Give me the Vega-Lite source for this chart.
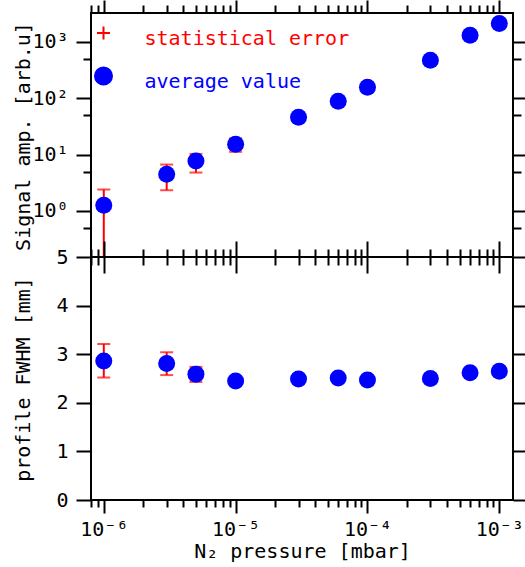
{
  "$schema": "https://vega.github.io/schema/vega-lite/v6.json",
  "background": "white",
  "padding": {"left": 11, "top": -2, "right": 0, "bottom": 0},
  "config": {
    "font": "DejaVu Sans Mono",
    "view": {"stroke": "black", "strokeWidth": 2},
    "concat": {"spacing": 0},
    "axis": {
      "domain": false, "grid": false, "tickColor": "black", "tickWidth": 2,
      "labelFont": "DejaVu Sans Mono", "labelFontSize": 20, "labelColor": "black",
      "titleFont": "DejaVu Sans Mono", "titleFontSize": 20, "titleFontWeight": "normal", "titleColor": "black",
      "labelFlush": false, "labelOverlap": false
    }
  },
  "datasets": {
    "d": [
      {"p": 0.000001, "s": 1.26, "slo": 0.12, "shi": 2.4, "f": 2.86, "flo": 2.52, "fhi": 3.21},
      {"p": 0.000003, "s": 4.48, "slo": 2.33, "shi": 6.66, "f": 2.81, "flo": 2.57, "fhi": 3.04},
      {"p": 0.000005, "s": 7.72, "slo": 4.8, "shi": 10.3, "f": 2.59, "flo": 2.43, "fhi": 2.74},
      {"p": 0.00001, "s": 15.3, "slo": 11.2, "shi": 19.4, "f": 2.45, "flo": null, "fhi": null},
      {"p": 0.00003, "s": 46, "slo": null, "shi": null, "f": 2.49, "flo": null, "fhi": null},
      {"p": 0.00006, "s": 88.6, "slo": null, "shi": null, "f": 2.51, "flo": null, "fhi": null},
      {"p": 0.0001, "s": 157, "slo": null, "shi": null, "f": 2.47, "flo": null, "fhi": null},
      {"p": 0.0003, "s": 473, "slo": null, "shi": null, "f": 2.5, "flo": null, "fhi": null},
      {"p": 0.0006, "s": 1315, "slo": null, "shi": null, "f": 2.62, "flo": null, "fhi": null},
      {"p": 0.001, "s": 2122, "slo": null, "shi": null, "f": 2.65, "flo": null, "fhi": null}
    ]
  },
  "bounds": "flush",
  "resolve": {"legend": {"color": "independent"}},
  "vconcat": [
    {
      "width": 422,
      "height": 244,
      "data": {"name": "d"},
      "resolve": {"axis": {"x": "independent", "y": "independent"}},
      "layer": [
        {
          "mark": {"type": "rule", "strokeWidth": 2, "clip": true},
          "encoding": {
            "x": {"field": "p", "type": "quantitative",
              "scale": {"type": "log", "domain": [8e-7, 0.00127], "nice": false},
              "axis": {"orient": "bottom", "labels": false, "title": null,
                "values": [8e-7,9e-7,0.000001,0.000002,0.000003,0.000004,0.000005,0.000006,0.000007,0.000008,0.000009,0.00001,0.00002,0.00003,0.00004,0.00005,0.00006,0.00007,0.00008,0.00009,0.0001,0.0002,0.0003,0.0004,0.0005,0.0006,0.0007,0.0008,0.0009,0.001],
                "tickSize": {"condition": {"test": "datum.value == 0.000001 || datum.value == 0.00001 || datum.value == 0.0001 || datum.value == 0.001", "value": 16}, "value": 8}}},
            "y": {"field": "slo", "type": "quantitative",
              "scale": {"type": "log", "domain": [0.152, 3270], "nice": false},
              "axis": {"orient": "left", "values": [0.5, 1, 5, 10, 50, 100, 500, 1000],
                "labelExpr": "datum.value == 1 ? '10⁰' : datum.value == 10 ? '10¹' : datum.value == 100 ? '10²' : datum.value == 1000 ? '10³' : ''",
                "tickSize": {"condition": {"test": "datum.value == 1 || datum.value == 10 || datum.value == 100 || datum.value == 1000", "value": 15}, "value": 8},
                "labelPadding": 8,
                "title": "Signal amp. [arb.u]", "titleAngle": 270, "titleBaseline": "alphabetic", "titleAlign": "center", "titleX": -62, "titleY": 123}},
            "y2": {"field": "shi"},
            "color": {"datum": "statistical error",
              "scale": {"domain": ["statistical error", "average value"], "range": ["red", "blue"]},
              "legend": {
                "orient": "none", "legendX": 2.5, "legendY": 10, "title": null, "padding": 0,
                "labelFont": "DejaVu Sans Mono", "labelFontSize": 20, "labelOffset": 31, "rowPadding": 14, "labelLimit": 400,
                "encode": {
                  "symbols": {"update": {
                    "shape": {"signal": "datum.value === 'statistical error' ? 'M-1,0H1M0,-1V1' : 'circle'"},
                    "size": {"signal": "datum.value === 'statistical error' ? 169 : 289"},
                    "fill": {"signal": "datum.value === 'statistical error' ? 'transparent' : 'blue'"},
                    "stroke": {"signal": "datum.value === 'statistical error' ? 'red' : 'transparent'"},
                    "strokeWidth": {"value": 2},
                    "opacity": {"value": 1},
                    "fillOpacity": {"value": 1}
                  }},
                  "labels": {"update": {
                    "fill": {"signal": "datum.value === 'statistical error' ? 'red' : 'blue'"},
                    "dy": {"value": 6}
                  }}
                }
              }}
          }
        },
        {
          "mark": {"type": "tick", "orient": "horizontal", "size": 13, "thickness": 2, "color": "red", "clip": true},
          "encoding": {
            "x": {"field": "p", "type": "quantitative",
              "axis": {"orient": "top", "labels": false, "title": null,
                "values": [8e-7,9e-7,0.000001,0.000002,0.000003,0.000004,0.000005,0.000006,0.000007,0.000008,0.000009,0.00001,0.00002,0.00003,0.00004,0.00005,0.00006,0.00007,0.00008,0.00009,0.0001,0.0002,0.0003,0.0004,0.0005,0.0006,0.0007,0.0008,0.0009,0.001],
                "tickSize": {"condition": {"test": "datum.value == 0.000001 || datum.value == 0.00001 || datum.value == 0.0001 || datum.value == 0.001", "value": 13}, "value": 8}}},
            "y": {"field": "shi", "type": "quantitative",
              "axis": {"orient": "right", "labels": false, "title": null, "values": [0.5, 1, 5, 10, 50, 100, 500, 1000],
                "tickSize": {"condition": {"test": "datum.value == 1 || datum.value == 10 || datum.value == 100 || datum.value == 1000", "value": 15}, "value": 8}}}
          }
        },
        {
          "mark": {"type": "tick", "orient": "horizontal", "size": 13, "thickness": 2, "color": "red", "clip": true},
          "encoding": {
            "x": {"field": "p", "type": "quantitative", "axis": null},
            "y": {"field": "slo", "type": "quantitative", "axis": null}
          }
        },
        {
          "mark": {"type": "circle", "size": 289, "opacity": 1},
          "encoding": {
            "x": {"field": "p", "type": "quantitative", "axis": null},
            "y": {"field": "s", "type": "quantitative", "axis": null},
            "color": {"datum": "average value"}
          }
        }
      ]
    },
    {
      "width": 422,
      "height": 243,
      "data": {"name": "d"},
      "resolve": {"axis": {"x": "independent", "y": "independent"}},
      "layer": [
        {
          "mark": {"type": "rule", "strokeWidth": 2, "color": "red", "clip": true},
          "encoding": {
            "x": {"field": "p", "type": "quantitative",
              "scale": {"type": "log", "domain": [8e-7, 0.00127], "nice": false},
              "axis": {"orient": "bottom",
                "values": [8e-7,9e-7,0.000001,0.000002,0.000003,0.000004,0.000005,0.000006,0.000007,0.000008,0.000009,0.00001,0.00002,0.00003,0.00004,0.00005,0.00006,0.00007,0.00008,0.00009,0.0001,0.0002,0.0003,0.0004,0.0005,0.0006,0.0007,0.0008,0.0009,0.001],
                "labelExpr": "datum.value == 0.000001 ? '10⁻⁶' : datum.value == 0.00001 ? '10⁻⁵' : datum.value == 0.0001 ? '10⁻⁴' : datum.value == 0.001 ? '10⁻³' : ''",
                "tickSize": {"condition": {"test": "datum.value == 0.000001 || datum.value == 0.00001 || datum.value == 0.0001 || datum.value == 0.001", "value": 13}, "value": 7},
                "labelPadding": 6,
                "title": "N₂ pressure [mbar]", "titleBaseline": "alphabetic", "titleAlign": "center", "titleX": 211, "titleY": 57}},
            "y": {"field": "flo", "type": "quantitative",
              "scale": {"domain": [0, 5], "nice": false, "zero": true},
              "axis": {"orient": "left", "values": [0, 1, 2, 3, 4, 5], "tickSize": 15, "labelPadding": 8,
                "title": "profile FWHM [mm]", "titleAngle": 270, "titleBaseline": "alphabetic", "titleAlign": "center", "titleX": -62, "titleY": 122}},
            "y2": {"field": "fhi"}
          }
        },
        {
          "mark": {"type": "tick", "orient": "horizontal", "size": 13, "thickness": 2, "color": "red", "clip": true},
          "encoding": {
            "x": {"field": "p", "type": "quantitative",
              "axis": {"orient": "top", "labels": false, "title": null,
                "values": [8e-7,9e-7,0.000001,0.000002,0.000003,0.000004,0.000005,0.000006,0.000007,0.000008,0.000009,0.00001,0.00002,0.00003,0.00004,0.00005,0.00006,0.00007,0.00008,0.00009,0.0001,0.0002,0.0003,0.0004,0.0005,0.0006,0.0007,0.0008,0.0009,0.001],
                "tickSize": {"condition": {"test": "datum.value == 0.000001 || datum.value == 0.00001 || datum.value == 0.0001 || datum.value == 0.001", "value": 16}, "value": 8}}},
            "y": {"field": "fhi", "type": "quantitative",
              "axis": {"orient": "right", "labels": false, "title": null, "values": [0, 1, 2, 3, 4, 5], "tickSize": 15}}
          }
        },
        {
          "mark": {"type": "tick", "orient": "horizontal", "size": 13, "thickness": 2, "color": "red", "clip": true},
          "encoding": {
            "x": {"field": "p", "type": "quantitative", "axis": null},
            "y": {"field": "flo", "type": "quantitative", "axis": null}
          }
        },
        {
          "mark": {"type": "circle", "size": 289, "opacity": 1, "color": "blue"},
          "encoding": {
            "x": {"field": "p", "type": "quantitative", "axis": null},
            "y": {"field": "f", "type": "quantitative", "axis": null}
          }
        }
      ]
    }
  ]
}
